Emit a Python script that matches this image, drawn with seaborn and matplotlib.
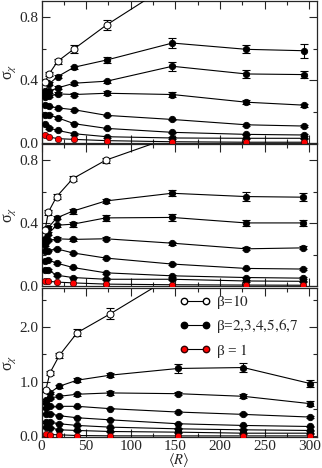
import matplotlib
matplotlib.use("Agg")
import matplotlib.pyplot as plt
from matplotlib.ticker import MultipleLocator
from matplotlib.lines import Line2D
import seaborn as sns

sns.set_style("ticks")
plt.rcParams["font.family"] = ["Liberation Serif", "DejaVu Serif"]
plt.rcParams["mathtext.fontset"] = "stix"

# ---------------- data ----------------
# top panel
top_x = [4, 8.5, 18, 36.5, 73, 146.5, 229.5, 294.5]
top_white = [0.39, 0.44, 0.52, 0.60, 0.753, 1.02, 1.3, 1.5]
top_white_err = [0.01, 0.015, 0.015, 0.025, 0.03, 0.04, 0.05, 0.05]
top_black = [
    [0.33, 0.377, 0.423, 0.483, 0.529, 0.637, 0.597, 0.588],
    [0.31, 0.33, 0.351, 0.381, 0.394, 0.489, 0.44, 0.436],
    [0.29, 0.30, 0.313, 0.309, 0.317, 0.309, 0.26, 0.241],
    [0.24, 0.233, 0.224, 0.212, 0.176, 0.150, 0.116, 0.108],
    [0.176, 0.18, 0.161, 0.123, 0.093, 0.068, 0.055, 0.051],
    [0.118, 0.097, 0.08, 0.059, 0.040, 0.032, 0.03, 0.03],
]
top_black_err = [
    [0.01, 0.01, 0.01, 0.01, 0.02, 0.03, 0.025, 0.045],
    [0.01, 0.01, 0.01, 0.01, 0.01, 0.03, 0.025, 0.02],
    [0.005, 0.005, 0.01, 0.01, 0.012, 0.015, 0.012, 0.01],
    [0.005, 0.005, 0.005, 0.005, 0.005, 0.005, 0.005, 0.005],
    [0.005, 0.005, 0.005, 0.005, 0.005, 0.005, 0.005, 0.005],
    [0.005, 0.005, 0.005, 0.005, 0.005, 0.005, 0.005, 0.005],
]
top_red = [0.049, 0.038, 0.028, 0.023, 0.015, 0.008, 0.005, 0.005]

# middle panel
mid_x = [4, 7.6, 17, 35, 72, 146, 229, 293]
mid_white = [0.355, 0.47, 0.57, 0.684, 0.802, 0.95, 1.1, 1.2]
mid_white_err = [0.01, 0.015, 0.015, 0.015, 0.015, 0.02, 0.03, 0.03]
mid_black = [
    [0.30, 0.372, 0.434, 0.477, 0.542, 0.591, 0.57, 0.566],
    [0.28, 0.333, 0.387, 0.394, 0.434, 0.437, 0.402, 0.402],
    [0.26, 0.29, 0.301, 0.297, 0.301, 0.273, 0.237, 0.243],
    [0.22, 0.226, 0.237, 0.211, 0.178, 0.14, 0.112, 0.108],
    [0.16, 0.166, 0.146, 0.118, 0.084, 0.065, 0.054, 0.05],
    [0.10, 0.101, 0.069, 0.054, 0.043, 0.043, 0.032, 0.03],
]
mid_black_err = [
    [0.01, 0.01, 0.01, 0.015, 0.015, 0.02, 0.03, 0.025],
    [0.005, 0.01, 0.01, 0.015, 0.02, 0.02, 0.02, 0.02],
    [0.005, 0.005, 0.01, 0.01, 0.01, 0.01, 0.01, 0.01],
    [0.005, 0.005, 0.005, 0.005, 0.005, 0.005, 0.005, 0.005],
    [0.005, 0.005, 0.005, 0.005, 0.005, 0.005, 0.005, 0.005],
    [0.005, 0.005, 0.005, 0.005, 0.005, 0.005, 0.005, 0.005],
]
mid_red = [0.035, 0.03, 0.025, 0.02, 0.012, 0.008, 0.006, 0.005]

# bottom panel
bot_x = [4.7, 9.5, 20, 40, 77, 153, 226, 301]
bot_white = [0.843, 1.163, 1.483, 1.90, 2.246, 3.0, 3.5, 3.8]
bot_white_err = [0.03, 0.04, 0.05, 0.06, 0.1, 0.15, 0.2, 0.2]
bot_black = [
    [0.66, 0.80, 0.917, 1.028, 1.12, 1.243, 1.26, 0.966],
    [0.60, 0.70, 0.732, 0.77, 0.794, 0.78, 0.732, 0.597],
    [0.52, 0.55, 0.548, 0.548, 0.505, 0.443, 0.40, 0.351],
    [0.41, 0.41, 0.375, 0.338, 0.30, 0.228, 0.197, 0.178],
    [0.26, 0.26, 0.228, 0.197, 0.166, 0.135, 0.117, 0.105],
    [0.166, 0.154, 0.117, 0.105, 0.086, 0.074, 0.055, 0.055],
]
bot_black_err = [
    [0.02, 0.02, 0.03, 0.04, 0.04, 0.08, 0.08, 0.07],
    [0.01, 0.01, 0.02, 0.03, 0.03, 0.03, 0.04, 0.04],
    [0.01, 0.01, 0.01, 0.01, 0.01, 0.02, 0.02, 0.02],
    [0.01, 0.01, 0.01, 0.01, 0.01, 0.01, 0.01, 0.01],
    [0.01, 0.01, 0.01, 0.01, 0.01, 0.01, 0.01, 0.01],
    [0.01, 0.01, 0.01, 0.01, 0.01, 0.01, 0.01, 0.01],
]
bot_red = [0.043, 0.03, 0.025, 0.012, 0.006, 0.005, 0.005, 0.005]

x_ticks = [0, 50, 100, 150, 200, 250, 300]
legend_labels = ["β=$\\mathit{10}$",
                 "β=$\\mathit{2{,}3{,}4{,}5{,}6{,}7}$",
                 "β = $\\mathit{1}$"]

# ---------------- figure ----------------
W, H = 322, 468
fig = plt.figure(figsize=(W / 100, H / 100), dpi=100)

def frac(x0, y0, x1, y1):
    return [x0 / W, 1 - y1 / H, (x1 - x0) / W, (y1 - y0) / H]

ax_top = fig.add_axes(frac(41.5, 1, 317, 143))
ax_mid = fig.add_axes(frac(41.5, 144, 317, 286))
ax_bot = fig.add_axes(frac(41.5, 288, 317, 437))

MS = 4.6
LW = 0.8

def draw(ax, x, white, white_err, blacks, blacks_err, red):
    for ys, es in zip(blacks, blacks_err):
        ax.errorbar(x, ys, yerr=es, fmt="none", ecolor="black",
                    elinewidth=LW, capsize=3.2, capthick=LW, zorder=2)
        sns.lineplot(x=x, y=ys, ax=ax, color="black", lw=LW, marker="o",
                     markersize=MS, markerfacecolor="black",
                     markeredgecolor="black", markeredgewidth=0.6,
                     estimator=None, sort=False, zorder=3)
    sns.lineplot(x=x, y=red, ax=ax, color="black", lw=LW, marker="o",
                 markersize=MS, markerfacecolor="red",
                 markeredgecolor="#300000", markeredgewidth=0.5,
                 estimator=None, sort=False, zorder=3)
    ax.errorbar(x, white, yerr=white_err, fmt="none", ecolor="black",
                elinewidth=LW, capsize=3.2, capthick=LW, zorder=4)
    sns.lineplot(x=x, y=white, ax=ax, color="black", lw=LW, marker="o",
                 markersize=MS + 0.4, markerfacecolor="white",
                 markeredgecolor="black", markeredgewidth=0.7,
                 estimator=None, sort=False, zorder=5)

draw(ax_top, top_x, top_white, top_white_err, top_black, top_black_err, top_red)
draw(ax_mid, mid_x, mid_white, mid_white_err, mid_black, mid_black_err, mid_red)
draw(ax_bot, bot_x, bot_white, bot_white_err, bot_black, bot_black_err, bot_red)

for ax in (ax_top, ax_mid, ax_bot):
    ax.set_xlim(0, 308.5)
    ax.set_xticks(x_ticks)
    ax.xaxis.set_minor_locator(MultipleLocator(25))
    ax.tick_params(which="both", direction="in", top=True, right=True,
                   labelsize=11, width=0.8, pad=2)
    ax.tick_params(which="major", length=5.5)
    ax.tick_params(which="minor", length=3)
    for s in ax.spines.values():
        s.set_linewidth(0.9)
    ax.set_ylabel("σ$_\\chi$", fontsize=11.5, labelpad=1)
    ax.set_xlabel("")

for ax in (ax_top, ax_mid):
    ax.set_ylim(0, 0.905)
    ax.set_yticks([0.0, 0.4, 0.8])
    ax.yaxis.set_minor_locator(MultipleLocator(0.2))
    ax.set_yticklabels(["0.0", "0.4", "0.8"])
    ax.tick_params(labelbottom=False)

ax_bot.set_ylim(-0.015, 2.72)
ax_bot.set_yticks([0.0, 1.0, 2.0])
ax_bot.set_yticklabels(["0.0", "1.0", "2.0"])
ax_bot.yaxis.set_minor_locator(MultipleLocator(0.5))
ax_bot.set_xticklabels([str(t) for t in x_ticks])
ax_bot.set_xlabel("$\\langle R\\rangle$", fontsize=10.5, labelpad=-1)

# legend
h_white = Line2D([], [], color="black", lw=LW, marker="o", markersize=MS,
                 markerfacecolor="white", markeredgecolor="black")
h_black = Line2D([], [], color="black", lw=LW, marker="o", markersize=MS,
                 markerfacecolor="black", markeredgecolor="black")
h_red = Line2D([], [], color="black", lw=LW, marker="o", markersize=MS,
               markerfacecolor="red", markeredgecolor="#300000")
ax_bot.legend([h_white, h_black, h_red], legend_labels, loc="upper left",
              bbox_to_anchor=(0.49, 0.985), frameon=False, numpoints=2,
              fontsize=11, handlelength=2.0, handletextpad=0.4,
              labelspacing=0.4, borderpad=0.2, borderaxespad=0)

fig.savefig("out.png", dpi=100)
